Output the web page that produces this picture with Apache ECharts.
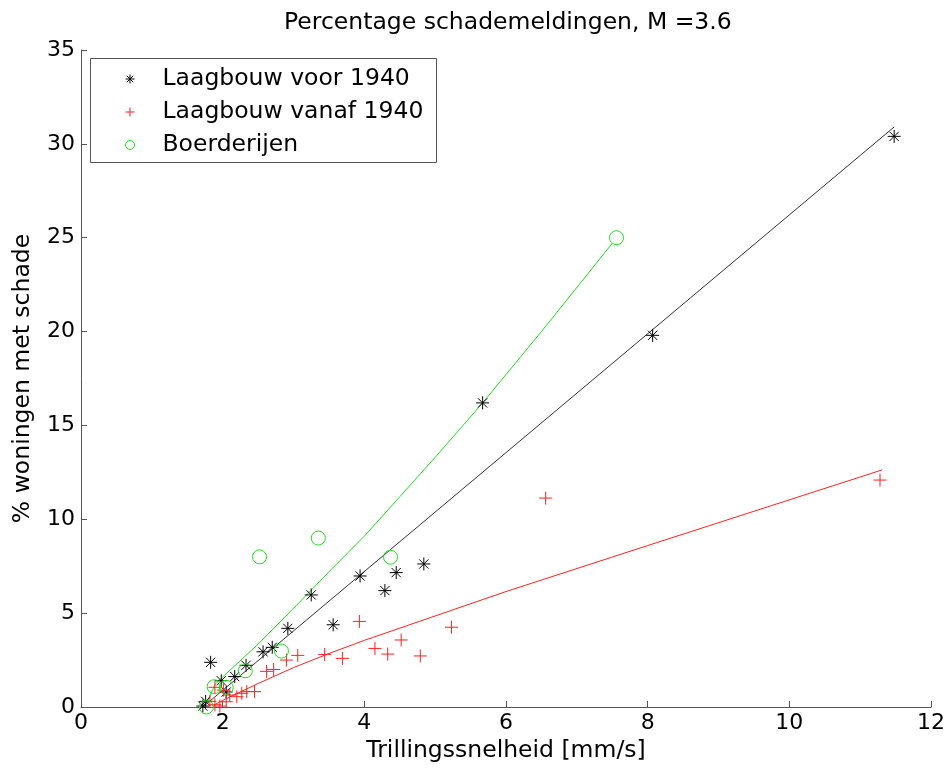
<!DOCTYPE html>
<html><head><meta charset="utf-8">
<script src="https://cdn.jsdelivr.net/npm/echarts@6/dist/echarts.min.js"></script>
<style>html,body{margin:0;padding:0;background:#fff}#c{width:948px;height:774px}</style>
</head><body><div id="c"></div>
<script>
const titleText = 'Percentage schademeldingen, M =3.6';
const xName = 'Trillingssnelheid [mm/s]';
const yName = '% woningen met schade';
const seriesNames = ['Laagbouw voor 1940', 'Laagbouw vanaf 1940', 'Boerderijen'];
const xTicks = [0, 2, 4, 6, 8, 10, 12];
const yTicks = [0, 5, 10, 15, 20, 25, 30, 35];

// Laagbouw voor 1940 (black *)
const voor1940 = [
  [11.48, 30.4], [8.07, 19.8], [5.67, 16.2], [4.84, 7.62], [4.45, 7.16], [4.29, 6.2],
  [3.94, 6.98], [3.56, 4.38], [3.25, 5.97], [2.92, 4.19], [2.70, 3.18], [2.57, 2.94],
  [2.33, 2.22], [2.17, 1.62], [1.98, 1.4], [1.83, 2.38], [2.05, 0.8], [1.76, 0.3], [1.72, 0.05]
];
// Laagbouw vanaf 1940 (red +)
const vanaf1940 = [
  [11.28, 12.09], [6.56, 11.13], [5.23, 4.25], [4.79, 2.72], [4.52, 3.57], [4.33, 2.82],
  [4.15, 3.12], [3.93, 4.56], [3.69, 2.59], [3.44, 2.8], [3.06, 2.75], [2.9, 2.5],
  [2.72, 2.0], [2.62, 1.9], [2.45, 0.82], [2.34, 0.82], [2.27, 0.73], [2.2, 0.55],
  [2.1, 0.64], [2.05, 0.28], [1.96, 0.05], [1.89, 0.12], [1.82, 0.3], [2.01, 0.9], [1.89, 1.05]
];
// Boerderijen (green o)
const boerderijen = [
  [7.56, 25.0], [4.37, 7.98], [3.35, 9.0], [2.52, 8.0], [2.83, 2.98],
  [2.32, 1.93], [2.05, 1.05], [1.88, 1.08], [1.77, 0.0]
];
// fitted curves
const fitVoor = [[1.72, 0.0], [11.48, 30.9]];
const fitVanaf = [[1.85, 0.05], [2.0, 0.35], [2.5, 1.25], [3.0, 2.1], [3.5, 2.85], [4.0, 3.55], [4.5, 4.2], [5.0, 4.85], [6.0, 6.15], [8.0, 8.6], [11.31, 12.63]];
const fitBoerderij = [[1.77, 0.2], [1.9, 1.25], [2.5, 3.35], [3.09, 5.6], [3.5, 7.2], [4.0, 9.1], [4.5, 11.2], [5.0, 13.3], [5.67, 16.2], [6.5, 20.0], [7.5, 24.7]];

const FONT = 'DejaVu Sans';
const starPath = 'path://M5,0L5,10M0,5L10,5M1.46,1.46L8.54,8.54M1.46,8.54L8.54,1.46';
const plusPath = 'path://M5,0L5,10M0,5L10,5';
const axisColor = '#555';

const chart = echarts.init(document.getElementById('c'), null, { renderer: 'canvas' });

function scatter(name, data, symbol, color, size) {
  return {
    name, type: 'scatter', data, symbol, symbolSize: size,
    itemStyle: { color: 'transparent', borderColor: color, borderWidth: 1, opacity: 1 },
    emphasis: { disabled: true }, z: 3
  };
}
function fitLine(data, color) {
  return {
    type: 'line', data, showSymbol: false, symbol: 'none', silent: true,
    lineStyle: { color, width: 1 }, z: 2
  };
}

chart.setOption({
  animation: false,
  backgroundColor: '#fff',
  title: {
    text: titleText, left: 279, top: 6,
    textStyle: { fontFamily: FONT, fontSize: 23.5, fontWeight: 'normal', color: '#000' }
  },
  grid: { left: 81, right: 16, top: 50, bottom: 67, containLabel: false },
  graphic: [{
    type: 'rect', z: 10, silent: true,
    shape: { x: 90.5, y: 58.5, width: 346, height: 104 },
    style: { fill: '#fff', stroke: axisColor, lineWidth: 1 }
  }],
  legend: {
    orient: 'vertical', left: 125, top: 67, z: 11, padding: 0,
    itemWidth: 9, itemHeight: 9, itemGap: 9,
    data: seriesNames,
    selectedMode: false,
    itemStyle: { borderWidth: 1 },
    textStyle: { fontFamily: FONT, fontSize: 23.5, color: '#000', lineHeight: 24, padding: [0, 0, 0, 23] }
  },
  xAxis: {
    type: 'value', min: xTicks[0], max: xTicks[xTicks.length - 1], interval: 2,
    name: xName, nameLocation: 'middle', nameGap: 32,
    nameTextStyle: { fontFamily: FONT, fontSize: 23.5, color: '#000' },
    axisLine: { show: true, onZero: false, lineStyle: { color: axisColor, width: 1 } },
    axisTick: { show: true, inside: true, length: 6, lineStyle: { color: axisColor } },
    axisLabel: { fontFamily: FONT, fontSize: 22, color: '#000', margin: 5 },
    splitLine: { show: false }
  },
  yAxis: {
    type: 'value', min: yTicks[0], max: yTicks[yTicks.length - 1], interval: 5,
    name: yName, nameLocation: 'middle', nameGap: 46, nameRotate: 90,
    nameTextStyle: { fontFamily: FONT, fontSize: 23.5, color: '#000' },
    axisLine: { show: true, onZero: false, lineStyle: { color: axisColor, width: 1 } },
    axisTick: { show: true, inside: true, length: 6, lineStyle: { color: axisColor } },
    axisLabel: { fontFamily: FONT, fontSize: 22, color: '#000', margin: 6 },
    splitLine: { show: false }
  },
  series: [
    scatter(seriesNames[0], voor1940, starPath, '#000', 13),
    scatter(seriesNames[1], vanaf1940, plusPath, '#ff2020', 13),
    scatter(seriesNames[2], boerderijen, 'circle', '#20e020', 14),
    fitLine(fitVoor, '#333'),
    fitLine(fitVanaf, '#ff2020'),
    fitLine(fitBoerderij, '#20e020')
  ]
});
</script></body></html>
